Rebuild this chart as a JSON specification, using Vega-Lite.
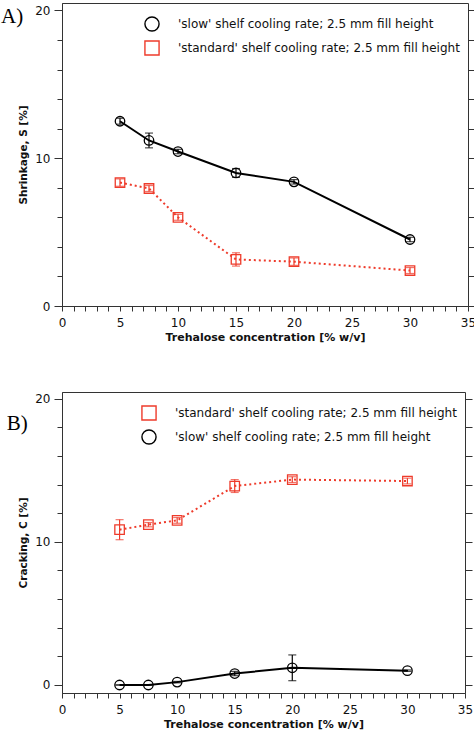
{
  "$schema": "https://vega.github.io/schema/vega-lite/v6.json",
  "padding": {"left": 0, "top": 2, "right": 4, "bottom": 0},
  "background": "white",
  "spacing": 48,
  "resolve": {
    "scale": {"color": "independent", "shape": "independent"},
    "legend": {"color": "independent", "shape": "independent"}
  },
  "config": {
    "font": "DejaVu Sans",
    "view": {"stroke": "#333", "strokeWidth": 1},
    "axis": {
      "grid": false,
      "domainColor": "#333",
      "tickColor": "#333",
      "labelColor": "#111",
      "labelFontSize": 12,
      "labelFont": "DejaVu Sans",
      "titleFont": "DejaVu Sans",
      "titleFontWeight": "bold",
      "titleColor": "#111",
      "labelOverlap": false,
      "labelFlush": false
    },
    "legend": {
      "labelFont": "DejaVu Sans",
      "labelFontSize": 12,
      "labelColor": "#111",
      "labelLimit": 400
    }
  },
  "datasets": {
    "shrink": [
      {"conc": 5, "v": 12.5, "err": 0.2, "series": "'slow' shelf cooling rate; 2.5 mm fill height"},
      {"conc": 7.5, "v": 11.2, "err": 0.5, "series": "'slow' shelf cooling rate; 2.5 mm fill height"},
      {"conc": 10, "v": 10.45, "err": 0.15, "series": "'slow' shelf cooling rate; 2.5 mm fill height"},
      {"conc": 15, "v": 9.0, "err": 0.3, "series": "'slow' shelf cooling rate; 2.5 mm fill height"},
      {"conc": 20, "v": 8.4, "err": 0.15, "series": "'slow' shelf cooling rate; 2.5 mm fill height"},
      {"conc": 30, "v": 4.5, "err": 0.15, "series": "'slow' shelf cooling rate; 2.5 mm fill height"},
      {"conc": 5, "v": 8.35, "err": 0.25, "series": "'standard' shelf cooling rate; 2.5 mm fill height"},
      {"conc": 7.5, "v": 7.95, "err": 0.2, "series": "'standard' shelf cooling rate; 2.5 mm fill height"},
      {"conc": 10, "v": 6.0, "err": 0.2, "series": "'standard' shelf cooling rate; 2.5 mm fill height"},
      {"conc": 15, "v": 3.15, "err": 0.45, "series": "'standard' shelf cooling rate; 2.5 mm fill height"},
      {"conc": 20, "v": 3.0, "err": 0.25, "series": "'standard' shelf cooling rate; 2.5 mm fill height"},
      {"conc": 30, "v": 2.4, "err": 0.2, "series": "'standard' shelf cooling rate; 2.5 mm fill height"}
    ],
    "crack": [
      {"conc": 5, "v": 10.85, "err": 0.7, "series": "'standard' shelf cooling rate; 2.5 mm fill height"},
      {"conc": 7.5, "v": 11.2, "err": 0.15, "series": "'standard' shelf cooling rate; 2.5 mm fill height"},
      {"conc": 10, "v": 11.5, "err": 0.2, "series": "'standard' shelf cooling rate; 2.5 mm fill height"},
      {"conc": 15, "v": 13.9, "err": 0.45, "series": "'standard' shelf cooling rate; 2.5 mm fill height"},
      {"conc": 20, "v": 14.35, "err": 0.2, "series": "'standard' shelf cooling rate; 2.5 mm fill height"},
      {"conc": 30, "v": 14.25, "err": 0.2, "series": "'standard' shelf cooling rate; 2.5 mm fill height"},
      {"conc": 5, "v": 0, "err": 0, "series": "'slow' shelf cooling rate; 2.5 mm fill height"},
      {"conc": 7.5, "v": 0, "err": 0, "series": "'slow' shelf cooling rate; 2.5 mm fill height"},
      {"conc": 10, "v": 0.2, "err": 0.05, "series": "'slow' shelf cooling rate; 2.5 mm fill height"},
      {"conc": 15, "v": 0.8, "err": 0.15, "series": "'slow' shelf cooling rate; 2.5 mm fill height"},
      {"conc": 20, "v": 1.2, "err": 0.9, "series": "'slow' shelf cooling rate; 2.5 mm fill height"},
      {"conc": 30, "v": 1.0, "err": 0.05, "series": "'slow' shelf cooling rate; 2.5 mm fill height"}
    ]
  },
  "vconcat": [
    {
      "width": 406,
      "height": 303,
      "layer": [
        {
          "data": {"name": "shrink"},
          "mark": {"type": "point", "filled": false, "strokeWidth": 1.3, "opacity": 1, "size": 90},
          "encoding": {
            "x": {
              "field": "conc", "type": "quantitative",
              "scale": {"domain": [0, 35], "nice": false, "zero": false},
              "axis": {
                "title": "Trehalose concentration [% w/v]",
                "titleFontSize": 11,
                "titlePadding": 3,
                "values": [0,1,2,3,4,5,6,7,8,9,10,11,12,13,14,15,16,17,18,19,20,21,22,23,24,25,26,27,28,29,30,31,32,33,34,35],
                "labelExpr": "datum.value % 5 === 0 ? datum.label : ''",
                "tickSize": 5,
                "labelPadding": 6
              }
            },
            "y": {
              "field": "v", "type": "quantitative",
              "scale": {"domain": [0, 20.5], "nice": false, "zero": false},
              "axis": {
                "title": "Shrinkage, S [%]",
                "titleFontSize": 10.5,
                "titlePadding": 6,
                "values": [0,2,4,6,8,10,12,14,16,18,20],
                "labelExpr": "datum.value % 10 === 0 ? datum.label : ''",
                "tickSize": {"condition": {"test": "datum.value % 10 === 0", "value": 8}, "value": 5},
                "labelPadding": 4
              }
            },
            "shape": {
              "field": "series", "type": "nominal",
              "scale": {
                "domain": ["'slow' shelf cooling rate; 2.5 mm fill height", "'standard' shelf cooling rate; 2.5 mm fill height"],
                "range": ["circle", "square"]
              }
            },
            "color": {
              "field": "series", "type": "nominal",
              "scale": {
                "domain": ["'slow' shelf cooling rate; 2.5 mm fill height", "'standard' shelf cooling rate; 2.5 mm fill height"],
                "range": ["#000000", "#ee3b2b"]
              },
              "legend": {
                "orient": "none", "legendX": 82, "legendY": 13, "title": null,
                "symbolSize": 200, "symbolStrokeWidth": 1.4, "labelOffset": 18, "rowPadding": 4, "labelLimit": 400,
                "encode": {
                  "symbols": {
                    "shape": {"condition": {"test": "datum.index === 0", "value": "M-1,0H-0.28M0.28,0H1M-0.28,0A0.28,0.28,0,1,1,0.28,0A0.28,0.28,0,1,1,-0.28,0Z"}, "value": "M-1,0H-0.9M-0.78,0H-0.68M-0.56,0H-0.46M0.46,0H0.56M0.68,0H0.78M0.9,0H1M-0.3,-0.3H0.3V0.3H-0.3Z"},
                    "size": {"value": 1024},
                    "fill": {"value": "transparent"},
                    "opacity": {"value": 1}
                  }
                }
              }
            }
          }
        },
        {
          "data": {"name": "shrink"},
          "transform": [{"filter": {"field": "series", "equal": "'slow' shelf cooling rate; 2.5 mm fill height"}}],
          "mark": {"type": "errorbar", "ticks": {"size": 8}, "thickness": 1.2, "color": "#000000"},
          "encoding": {
            "x": {"field": "conc", "type": "quantitative", "axis": null},
            "y": {"field": "v", "type": "quantitative", "axis": null},
            "yError": {"field": "err"}
          }
        },
        {
          "data": {"name": "shrink"},
          "transform": [{"filter": {"field": "series", "equal": "'standard' shelf cooling rate; 2.5 mm fill height"}}],
          "mark": {"type": "errorbar", "ticks": {"size": 8}, "thickness": 1.2, "color": "#ee3b2b"},
          "encoding": {
            "x": {"field": "conc", "type": "quantitative", "axis": null},
            "y": {"field": "v", "type": "quantitative", "axis": null},
            "yError": {"field": "err"}
          }
        },
        {
          "data": {"name": "shrink"},
          "transform": [{"filter": {"field": "series", "equal": "'slow' shelf cooling rate; 2.5 mm fill height"}}],
          "mark": {"type": "line", "strokeWidth": 2, "color": "#000000"},
          "encoding": {
            "x": {"field": "conc", "type": "quantitative", "axis": null},
            "y": {
              "field": "v", "type": "quantitative",
              "axis": {
                "orient": "right", "title": null, "labels": false, "domain": false,
                "values": [0,2,4,6,8,10,12,14,16,18,20],
                "tickSize": 7
              }
            }
          }
        },
        {
          "data": {"name": "shrink"},
          "transform": [{"filter": {"field": "series", "equal": "'standard' shelf cooling rate; 2.5 mm fill height"}}],
          "mark": {"type": "line", "strokeWidth": 2, "strokeDash": [2, 3], "color": "#ee3b2b"},
          "encoding": {
            "x": {"field": "conc", "type": "quantitative", "axis": null},
            "y": {"field": "v", "type": "quantitative", "axis": null}
          }
        },
        {
          "data": {"values": [{"lab": "A)"}]},
          "mark": {"type": "text", "font": "Liberation Serif", "fontSize": 21, "align": "left", "baseline": "middle", "fill": "#000000"},
          "encoding": {
            "x": {"datum": -5.25, "type": "quantitative", "axis": null},
            "y": {"datum": 19.55, "type": "quantitative", "axis": null},
            "text": {"field": "lab", "type": "nominal"}
          }
        }
      ],
      "resolve": {"axis": {"x": "independent", "y": "independent"}}
    },
    {
      "width": 403,
      "height": 301,
      "layer": [
        {
          "data": {"name": "crack"},
          "mark": {"type": "point", "filled": false, "strokeWidth": 1.3, "opacity": 1, "size": 90},
          "encoding": {
            "x": {
              "field": "conc", "type": "quantitative",
              "scale": {"domain": [0, 35], "nice": false, "zero": false},
              "axis": {
                "title": "Trehalose concentration [% w/v]",
                "titleFontSize": 11,
                "titlePadding": 3,
                "values": [0,1,2,3,4,5,6,7,8,9,10,11,12,13,14,15,16,17,18,19,20,21,22,23,24,25,26,27,28,29,30,31,32,33,34,35],
                "labelExpr": "datum.value % 5 === 0 ? datum.label : ''",
                "tickSize": 5,
                "labelPadding": 6
              }
            },
            "y": {
              "field": "v", "type": "quantitative",
              "scale": {"domain": [-0.56, 20.47], "nice": false, "zero": false},
              "axis": {
                "title": "Cracking, C [%]",
                "titleFontSize": 10.5,
                "titlePadding": 6,
                "values": [0,2,4,6,8,10,12,14,16,18,20],
                "labelExpr": "datum.value % 10 === 0 ? datum.label : ''",
                "tickSize": {"condition": {"test": "datum.value % 10 === 0", "value": 8}, "value": 5},
                "labelPadding": 4
              }
            },
            "shape": {
              "field": "series", "type": "nominal",
              "scale": {
                "domain": ["'standard' shelf cooling rate; 2.5 mm fill height", "'slow' shelf cooling rate; 2.5 mm fill height"],
                "range": ["square", "circle"]
              }
            },
            "color": {
              "field": "series", "type": "nominal",
              "scale": {
                "domain": ["'standard' shelf cooling rate; 2.5 mm fill height", "'slow' shelf cooling rate; 2.5 mm fill height"],
                "range": ["#ee3b2b", "#000000"]
              },
              "legend": {
                "orient": "none", "legendX": 79, "legendY": 13, "title": null,
                "symbolSize": 200, "symbolStrokeWidth": 1.4, "labelOffset": 18, "rowPadding": 4, "labelLimit": 400,
                "encode": {
                  "symbols": {
                    "shape": {"condition": {"test": "datum.index === 1", "value": "M-1,0H-0.28M0.28,0H1M-0.28,0A0.28,0.28,0,1,1,0.28,0A0.28,0.28,0,1,1,-0.28,0Z"}, "value": "M-1,0H-0.9M-0.78,0H-0.68M-0.56,0H-0.46M0.46,0H0.56M0.68,0H0.78M0.9,0H1M-0.3,-0.3H0.3V0.3H-0.3Z"},
                    "size": {"value": 1024},
                    "fill": {"value": "transparent"},
                    "opacity": {"value": 1}
                  }
                }
              }
            }
          }
        },
        {
          "data": {"name": "crack"},
          "transform": [{"filter": {"field": "series", "equal": "'slow' shelf cooling rate; 2.5 mm fill height"}}],
          "mark": {"type": "errorbar", "ticks": {"size": 8}, "thickness": 1.2, "color": "#000000"},
          "encoding": {
            "x": {"field": "conc", "type": "quantitative", "axis": null},
            "y": {"field": "v", "type": "quantitative", "axis": null},
            "yError": {"field": "err"}
          }
        },
        {
          "data": {"name": "crack"},
          "transform": [{"filter": {"field": "series", "equal": "'standard' shelf cooling rate; 2.5 mm fill height"}}],
          "mark": {"type": "errorbar", "ticks": {"size": 8}, "thickness": 1.2, "color": "#ee3b2b"},
          "encoding": {
            "x": {"field": "conc", "type": "quantitative", "axis": null},
            "y": {"field": "v", "type": "quantitative", "axis": null},
            "yError": {"field": "err"}
          }
        },
        {
          "data": {"name": "crack"},
          "transform": [{"filter": {"field": "series", "equal": "'slow' shelf cooling rate; 2.5 mm fill height"}}],
          "mark": {"type": "line", "strokeWidth": 2, "color": "#000000"},
          "encoding": {
            "x": {"field": "conc", "type": "quantitative", "axis": null},
            "y": {
              "field": "v", "type": "quantitative",
              "axis": {
                "orient": "right", "title": null, "labels": false, "domain": false,
                "values": [0,2,4,6,8,10,12,14,16,18,20],
                "tickSize": 7
              }
            }
          }
        },
        {
          "data": {"name": "crack"},
          "transform": [{"filter": {"field": "series", "equal": "'standard' shelf cooling rate; 2.5 mm fill height"}}],
          "mark": {"type": "line", "strokeWidth": 2, "strokeDash": [2, 3], "color": "#ee3b2b"},
          "encoding": {
            "x": {"field": "conc", "type": "quantitative", "axis": null},
            "y": {"field": "v", "type": "quantitative", "axis": null}
          }
        },
        {
          "data": {"values": [{"lab": "B)"}]},
          "mark": {"type": "text", "font": "Liberation Serif", "fontSize": 21, "align": "left", "baseline": "middle", "fill": "#000000"},
          "encoding": {
            "x": {"datum": -4.8, "type": "quantitative", "axis": null},
            "y": {"datum": 18.2, "type": "quantitative", "axis": null},
            "text": {"field": "lab", "type": "nominal"}
          }
        }
      ],
      "resolve": {"axis": {"x": "independent", "y": "independent"}}
    }
  ]
}
